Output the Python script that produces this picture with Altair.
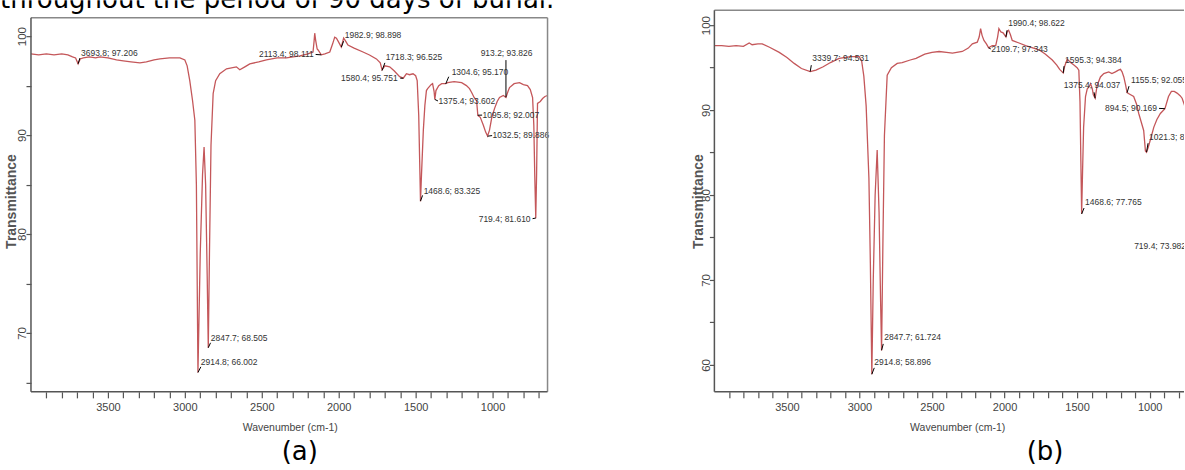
import altair as alt
import pandas as pd

TOP_TEXT = "throughout the period of 90 days of burial."
X_TITLE = "Wavenumber (cm-1)"
Y_TITLE = "Transmittance"
TAGS = ["(a)", "(b)"]

# spectrum (a): (wavenumber cm-1, transmittance %)
SPEC_A = [
    (4000, 98.2), (3950, 98.1), (3900, 98.2), (3850, 98.1), (3800, 98.2), (3760, 98.1),
    (3730, 97.9), (3710, 97.8), (3693.8, 97.21), (3680, 97.7), (3660, 97.8), (3620, 97.9),
    (3580, 97.8), (3552, 97.9), (3500, 97.8), (3444, 97.6), (3400, 97.5), (3350, 97.4),
    (3292, 97.3), (3250, 97.4), (3200, 97.6), (3162, 97.7), (3100, 97.8), (3032, 97.8),
    (3000, 97.6), (2985, 97.0), (2968, 95.5), (2950, 93.5), (2935, 91.5), (2925, 85.0),
    (2914.8, 66.0), (2900, 78.0), (2885, 86.0), (2875, 88.8), (2865, 85.0), (2855, 76.0),
    (2847.7, 68.5), (2840, 78.0), (2830, 89.0), (2816, 94.2), (2800, 95.5), (2773, 96.2),
    (2729, 96.7), (2665, 96.9), (2643, 96.6), (2610, 96.9), (2578, 97.2), (2520, 97.4),
    (2470, 97.6), (2400, 97.8), (2340, 97.8), (2253, 98.0), (2200, 98.2), (2167, 98.4),
    (2160, 99.5), (2156, 100.3), (2150, 99.6), (2140, 98.7), (2134, 98.6), (2113.4, 98.11),
    (2090, 98.2), (2058, 98.4), (2040, 99.2), (2026, 99.9), (2015, 99.8), (2004, 99.5),
    (1990, 99.1), (1982.9, 98.9), (1975, 99.4), (1968, 99.8), (1955, 99.5), (1940, 99.1),
    (1900, 98.8), (1842, 98.4), (1800, 98.1), (1755, 97.7), (1730, 97.3), (1718.3, 96.6),
    (1700, 97.0), (1669, 96.9), (1640, 96.5), (1604, 95.9), (1580.4, 95.75), (1560, 96.2),
    (1540, 96.1), (1517, 96.2), (1500, 96.0), (1490, 95.5), (1480, 92.0), (1472, 86.0),
    (1468.6, 83.3), (1462, 86.0), (1450, 90.5), (1440, 93.0), (1430, 94.5), (1422, 94.7),
    (1400, 95.1), (1390, 95.2), (1380, 94.4), (1375.4, 93.6), (1368, 94.5), (1350, 95.0),
    (1331, 95.2), (1304.6, 95.2), (1292, 95.3), (1250, 95.4), (1201, 95.3), (1170, 95.0),
    (1150, 94.7), (1136, 94.3), (1120, 93.8), (1104, 93.5), (1095.8, 92.0), (1080, 91.8),
    (1060, 91.0), (1045, 90.3), (1032.5, 89.9), (1020, 90.5), (1005, 91.8), (987, 92.7),
    (970, 93.4), (955, 93.8), (930, 94.0), (913.2, 93.8), (900, 94.4), (890, 94.8),
    (860, 95.2), (825, 95.3), (800, 95.1), (773, 95.0), (755, 94.6), (740, 93.8),
    (732, 91.0), (726, 86.0), (719.4, 81.6), (714, 86.0), (708, 93.2), (690, 93.4),
    (675, 93.7), (660, 93.9), (643, 94.0),
]

# spectrum (b)
SPEC_B = [
    (4000, 97.6), (3950, 97.6), (3900, 97.5), (3850, 97.6), (3800, 97.5), (3760, 97.9),
    (3740, 97.7), (3700, 97.8), (3670, 97.8), (3620, 97.4), (3553, 96.8), (3500, 96.2),
    (3450, 95.5), (3400, 94.9), (3339.7, 94.53), (3300, 94.7), (3250, 95.1), (3200, 95.6),
    (3140, 96.1), (3060, 96.3), (3002, 96.3), (2985, 95.8), (2970, 94.0), (2954, 90.5),
    (2935, 82.0), (2925, 72.0), (2914.8, 58.9), (2905, 70.0), (2892, 80.0), (2878, 85.3),
    (2865, 78.0), (2855, 68.0), (2847.7, 61.7), (2838, 75.0), (2828, 87.0), (2809, 94.1),
    (2780, 95.0), (2740, 95.5), (2706, 95.6), (2650, 95.9), (2610, 96.1), (2550, 96.6),
    (2500, 96.8), (2451, 96.9), (2400, 96.8), (2359, 96.7), (2291, 96.9), (2250, 97.3),
    (2222, 97.8), (2188, 98.0), (2175, 98.6), (2165, 99.6), (2155, 98.8), (2142, 98.2),
    (2125, 97.8), (2109.7, 97.34), (2085, 97.6), (2061, 97.6), (2048, 98.6), (2039, 99.6),
    (2025, 99.2), (2010, 99.1), (1990.4, 98.62), (1980, 99.3), (1972, 99.4), (1960, 98.9),
    (1947, 98.2), (1900, 97.9), (1855, 97.6), (1800, 97.3), (1763, 97.1), (1720, 96.6),
    (1671, 95.9), (1640, 95.3), (1620, 94.8), (1603, 94.5), (1595.3, 94.38), (1585, 95.2),
    (1568, 96.0), (1545, 95.6), (1522, 95.3), (1500, 95.0), (1488, 94.7), (1480, 91.0),
    (1474, 84.0), (1468.6, 77.8), (1462, 83.0), (1455, 88.0), (1442, 91.6), (1430, 92.5),
    (1419, 92.7), (1407, 93.1), (1395, 92.5), (1388, 91.8), (1375.4, 91.4), (1362, 92.9),
    (1339, 93.9), (1316, 94.3), (1282, 94.5), (1260, 94.3), (1236, 94.5), (1215, 94.7),
    (1201, 94.8), (1190, 94.5), (1178, 93.9), (1165, 92.9), (1155.5, 92.06), (1140, 91.9),
    (1110, 91.6), (1090, 90.7), (1075, 89.6), (1058, 88.6), (1041, 87.6), (1029, 85.2),
    (1021.3, 85.05), (1010, 85.6), (990, 86.8), (971, 88.0), (950, 88.9), (926, 89.6),
    (894.5, 90.17), (870, 91.6), (850, 92.2), (830, 92.2), (811, 92.0), (790, 91.7),
    (776, 91.4), (760, 90.6), (745, 89.0), (735, 85.0), (725, 77.0), (719.4, 74.0),
    (712, 82.0), (700, 90.0), (680, 91.0), (650, 91.5),
]

# peak labels: (peak wn, peak T, label, label wn, label T, align, leader-end wn, leader-end T)
ANN_A = [
    (3693.8, 97.206, "3693.8; 97.206", 3675, 98.28, "left", 3682, 97.78),
    (2914.8, 66.002, "2914.8; 66.002", 2896, 67.07, "left", 2896, 66.57),
    (2847.7, 68.505, "2847.7; 68.505", 2831, 69.5, "left", 2833, 69.0),
    (2113.4, 98.111, "2113.4; 98.111", 2162, 98.18, "right", 2150, 98.15),
    (1982.9, 98.898, "1982.9; 98.898", 1961, 100.1, "left", 1968, 99.49),
    (1718.3, 96.525, "1718.3; 96.525", 1695, 97.88, "left", 1700, 97.3),
    (1580.4, 95.751, "1580.4; 95.751", 1617, 95.76, "right", 1600, 95.75),
    (1468.6, 83.325, "1468.6; 83.325", 1448, 84.34, "left", 1455, 83.9),
    (1375.4, 93.602, "1375.4; 93.602", 1351, 93.43, "left", 1355, 93.45),
    (1304.6, 95.170, "1304.6; 95.170", 1266, 96.36, "left", 1285, 95.9),
    (1095.8, 92.007, "1095.8; 92.007", 1065, 92.02, "left", 1068, 92.02),
    (1032.5, 89.886, "1032.5; 89.886", 1000, 90.0, "left", 1003, 89.95),
    (913.2, 93.826, "913.2; 93.826", 909, 98.28, "center", 913.2, 97.58),
    (719.4, 81.610, "719.4; 81.610", 753, 81.5, "right", 740, 81.55),
]

ANN_B = [
    (3339.7, 94.531, "3339.7; 94.531", 3325, 96.12, "left", 3332, 95.29),
    (2914.8, 58.896, "2914.8; 58.896", 2898, 60.35, "left", 2898, 59.65),
    (2847.7, 61.724, "2847.7; 61.724", 2829, 63.29, "left", 2836, 62.47),
    (2109.7, 97.343, "2109.7; 97.343", 2092, 97.18, "left", 2095, 97.2),
    (1990.4, 98.622, "1990.4; 98.622", 1975, 100.24, "left", 1983, 99.4),
    (1595.3, 94.384, "1595.3; 94.384", 1583, 95.88, "left", 1590, 95.18),
    (1468.6, 77.765, "1468.6; 77.765", 1445, 79.18, "left", 1452, 78.47),
    (1375.4, 91.4, "1375.4; 94.037", 1397, 92.94, "center", 1383, 92.1),
    (1155.5, 92.055, "1155.5; 92.055", 1128, 93.53, "left", 1142, 92.82),
    (894.5, 90.169, "894.5; 90.169", 949, 90.24, "right", 935, 90.2),
    (1021.3, 85.054, "1021.3; 85.054", 1004, 86.82, "left", 1011, 86.1),
    (719.4, 73.982, "719.4; 73.982", 749, 74.0, "right", 740, 74.0),
]

X_TICKS_A = list(range(700, 4000, 100))
X_TICKS_B = list(range(800, 4000, 100))
Y_TICKS_A = list(range(65, 101, 5))
Y_TICKS_B = list(range(60, 101, 5))

RED = "#c4575a"
SANS = "Liberation Sans, Arial, sans-serif"
DOC_FONT = "DejaVu Sans"


def spec_df(spec):
    return pd.DataFrame(spec, columns=["wn", "t"])


def ann_df(ann):
    return pd.DataFrame(ann, columns=["wn", "t", "label", "lwn", "lt", "align", "ewn", "et"])


ONE = pd.DataFrame({"k": [0]})


def panel(spec, ann, W, H, xdom, ydom, xticks, yticks, axis_at, ytitle_x,
          xtitle_x, frame, tag, tag_x, top_text=None):
    xs = alt.Scale(domain=xdom, reverse=True, nice=False, zero=False)
    ys = alt.Scale(domain=ydom, nice=False, zero=False)
    xaxis = alt.Axis(values=xticks, format="d",
                     labelExpr="datum.value % 500 === 0 ? datum.label : ''",
                     domain=False, grid=False, tickSize=6, tickWidth=1.2,
                     tickColor="#555", labelFont=SANS, labelFontSize=11,
                     labelColor="#444", labelPadding=4, labelOverlap=False,
                     labelFlush=False, titleFont=SANS, titleFontSize=10.5,
                     titleFontWeight="normal", titleColor="#444",
                     titleX=xtitle_x, titleY=36, titleBaseline="middle",
                     titleAlign="center")
    yaxis = alt.Axis(values=yticks, format="d",
                     labelExpr="datum.value % 10 === 0 ? datum.label : ''",
                     offset=-axis_at, domain=False, grid=False, tickSize=5,
                     tickWidth=1.2, tickColor="#555", labelAngle=270,
                     labelAlign="center", labelBaseline="middle", labelPadding=3,
                     labelFont=SANS, labelFontSize=11.5, labelColor="#444",
                     labelOverlap=False, titleX=ytitle_x, titleY=201,
                     titleAngle=270, titleBaseline="middle", titleAlign="center",
                     titleFont="Liberation Sans", titleFontSize=14,
                     titleFontWeight="bold", titleColor="#555")

    def X(f):
        return alt.X(f, type="quantitative", scale=xs, axis=xaxis, title=X_TITLE)

    def Y(f):
        return alt.Y(f, type="quantitative", scale=ys, axis=yaxis, title=Y_TITLE)

    sd = spec_df(spec)
    ad = ann_df(ann)
    layers = []
    layers.append(alt.Chart(sd).mark_line(color=RED, strokeWidth=1.3, clip=True)
                  .encode(x=X("wn"), y=Y("t")))
    layers.append(alt.Chart(ad).mark_rule(color="black", strokeWidth=1, clip=True)
                  .encode(x=X("wn"), y=Y("t"), x2="ewn:Q", y2="et:Q"))
    for a in ["left", "right", "center"]:
        layers.append(alt.Chart(ad).transform_filter(alt.datum.align == a)
                      .mark_text(align=a, baseline="middle", font=SANS, fontSize=8.5,
                                 color="#333", clip=True)
                      .encode(x=X("lwn"), y=Y("lt"), text="label:N"))
    for (x1, x2, y1, y2, col) in frame:
        layers.append(alt.Chart(ONE).mark_rule(color=col, strokeWidth=1.5)
                      .encode(x=alt.value(x1), x2=alt.value(x2),
                              y=alt.value(y1), y2=alt.value(y2)))
    layers.append(alt.Chart(ONE).mark_text(text=tag, font=DOC_FONT, fontSize=26,
                                           align="center", baseline="alphabetic",
                                           color="black")
                  .encode(x=alt.value(tag_x), y=alt.value(460)))
    if top_text:
        layers.append(alt.Chart(ONE).mark_text(text=top_text, font=DOC_FONT, fontSize=26,
                                               align="left", baseline="alphabetic",
                                               color="black", clip=True)
                      .encode(x=alt.value(0), y=alt.value(7.5)))
    return alt.layer(*layers).properties(width=W, height=H)


H = 392
# panel (a): plot region 0..560 px, axis at 31 px
WA = 560
XDOM_A = [4000 - (WA - 31) / 0.154, 4000 + 31 / 0.154]
YDOM_A = [100 - (H - 36) / 9.9, 100 + 36 / 9.9]
FRAME_A = [
    (31, 548, 17.5, 17.5, "#888"),
    (548, 548, 17.5, H, "#888"),
    (31, 31, 17.5, H, "#555"),
    (31, 548, H, H, "#555"),
]
pa = panel(SPEC_A, ANN_A, WA, H, XDOM_A, YDOM_A, X_TICKS_A, Y_TICKS_A, 31, -19,
           290, FRAME_A, TAGS[0], 300, top_text=TOP_TEXT)

# panel (b): plot region 680..1185 px, axis at 715 px
WB = 505
XDOM_B = [4000 - (WB - 35) / 0.1452, 4000 + 35 / 0.1452]
YDOM_B = [100 - (H - 25) / 8.5, 100 + 25 / 8.5]
FRAME_B = [
    (35, WB, 10, 10, "#888"),
    (35, 35, 10, H, "#555"),
    (35, WB, H, H, "#555"),
]
pb = panel(SPEC_B, ANN_B, WB, H, XDOM_B, YDOM_B, X_TICKS_B, Y_TICKS_B, 35, -16,
           278, FRAME_B, TAGS[1], 366)

chart = (alt.hconcat(pa, pb, spacing=120)
         .properties(padding=0, background="white")
         .configure_view(stroke=None))

chart.save("out.html", embed_options={"renderer": "svg", "actions": False})
